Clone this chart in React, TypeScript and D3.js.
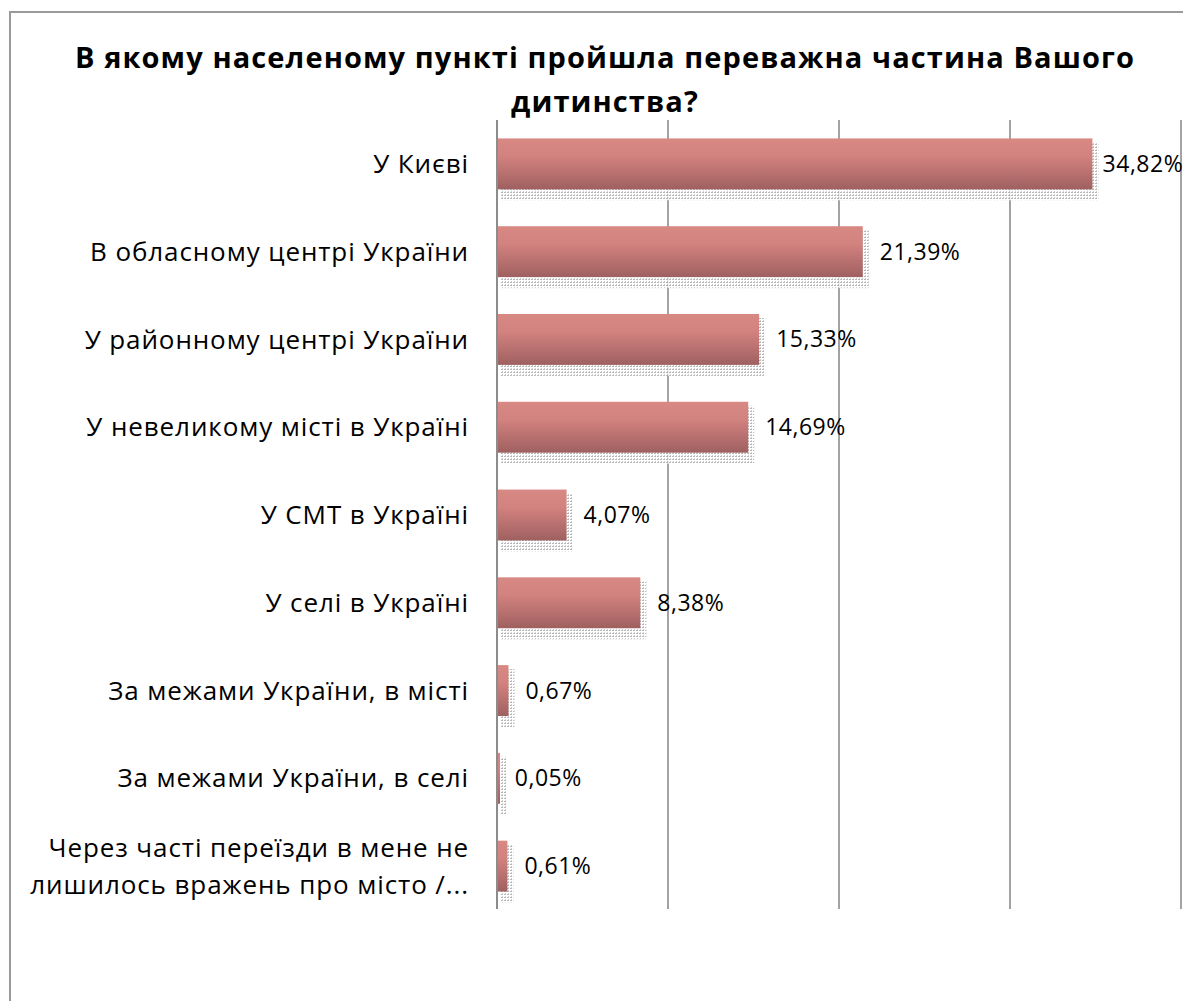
import React from "react";
import * as d3 from "d3";

const categories = [
  "У Києві",
  "В обласному центрі України",
  "У районному центрі України",
  "У невеликому місті в Україні",
  "У СМТ  в Україні",
  "У селі в Україні",
  "За межами України, в місті",
  "За межами України, в селі",
  "Через часті переїзди в мене не|лишилось вражень про місто /...",
];
const values = [34.82, 21.39, 15.33, 14.69, 4.07, 8.38, 0.67, 0.05, 0.61];
const valueLabels = ["34,82%", "21,39%", "15,33%", "14,69%", "4,07%", "8,38%", "0,67%", "0,05%", "0,61%"];
const gridTicks = [0, 10, 20, 30, 40];
const titleLines = ["В якому населеному пункті пройшла переважна частина Вашого", "дитинства?"];

const W = 1183;
const H = 1001;
const FONT = "'Open Sans', 'Noto Sans', sans-serif";

export default function App() {
  const x = d3.scaleLinear().domain([0, 40]).range([497, 1181]);
  const y = d3
    .scaleBand<number>()
    .domain(d3.range(categories.length))
    .range([120, 910])
    .paddingInner(0.42)
    .paddingOuter(0.21);
  const bw = y.bandwidth();

  return (
    <svg
      width={W}
      height={H}
      style={{ position: "absolute", left: 0, top: 0, background: "#fff" }}
      fontFamily={FONT}
    >
      <defs>
        <linearGradient id="barGrad" x1="0" y1="0" x2="0" y2="1">
          <stop offset="0%" stopColor="#d98984" />
          <stop offset="35%" stopColor="#d2827f" />
          <stop offset="100%" stopColor="#9f6060" />
        </linearGradient>
        <pattern id="shadowPat" width="3" height="3" patternUnits="userSpaceOnUse">
          <rect width="3" height="3" fill="#fff" />
          <rect width="2" height="1" fill="#aaa" />
          <rect x="1" y="2" width="1" height="1" fill="#c4c4c4" />
        </pattern>
      </defs>
      <rect x={10} y={12} width={W} height={H} fill="#fff" stroke="#9a9a9a" strokeWidth={2} />

      {titleLines.map((t, i) => (
        <text
          key={i}
          x={605}
          y={68 + i * 44}
          textAnchor="middle"
          fontSize={29}
          letterSpacing={1.1}
          fontWeight="bold"
          fill="#000"
        >
          {t}
        </text>
      ))}

      {gridTicks.slice(1).map((t) => (
        <line key={t} x1={x(t)} x2={x(t)} y1={120} y2={909} stroke="#8c8c8c" strokeWidth={1.6} />
      ))}

      {values.map((v, i) => {
        const y0 = y(i)!;
        const x0 = x(0);
        const x1 = x(v);
        const w = Math.max(x1 - x0, 3);
        return (
          <g key={i}>
            <rect x={x0 + 3} y={y0 + 4} width={w + 3} height={bw + 7} fill="url(#shadowPat)" opacity={0.85} />
            <rect x={x0} y={y0} width={w} height={bw} fill="url(#barGrad)" />
          </g>
        );
      })}

      <line x1={x(0)} x2={x(0)} y1={120} y2={909} stroke="#8c8c8c" strokeWidth={2} />

      {values.map((v, i) => {
        const cy = y(i)! + bw / 2;
        let lx = x(v) + 17;
        const approxW = valueLabels[i].length * 13.4;
        if (lx + approxW > 1183) lx = 1183 - approxW;
        return (
          <text key={i} x={lx} y={cy} dy="0.35em" fontSize={23} letterSpacing={0.5} fill="#000">
            {valueLabels[i]}
          </text>
        );
      })}

      {categories.map((c, i) => {
        const cy = y(i)! + bw / 2;
        const lines = c.split("|");
        const lh = 37;
        return (
          <text key={i} x={469} textAnchor="end" fontSize={26} letterSpacing={0.9} fill="#000">
            {lines.map((l, j) => (
              <tspan key={j} x={469} y={cy + (j - (lines.length - 1) / 2) * lh} dy="0.35em">
                {l}
              </tspan>
            ))}
          </text>
        );
      })}
    </svg>
  );
}
